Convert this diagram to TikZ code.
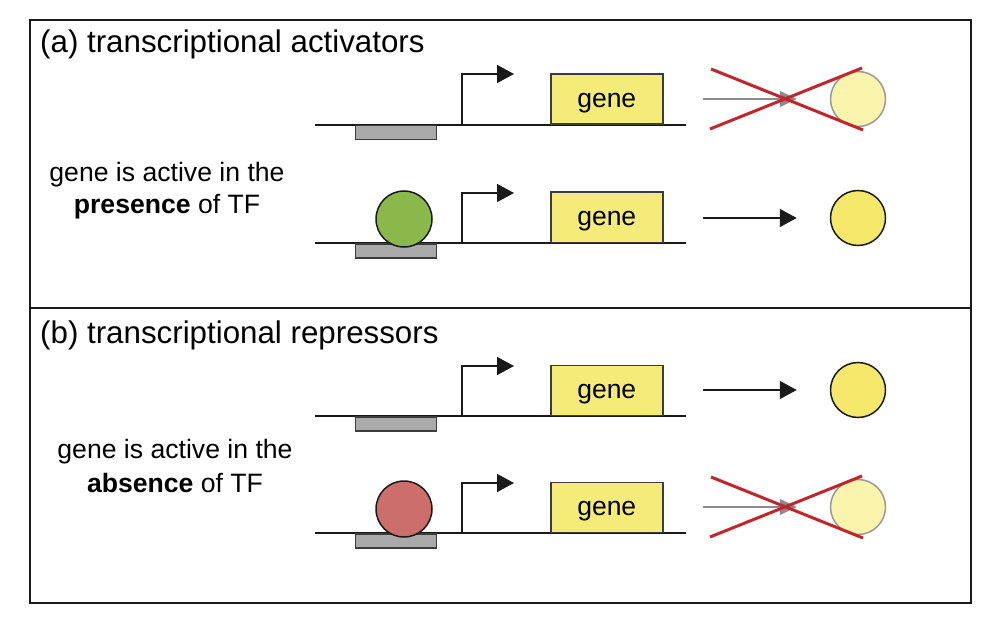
\documentclass[tikz,border=0pt]{standalone}
\usepackage{fontspec}
\setmainfont{Liberation Sans}
\usetikzlibrary{arrows.meta}
\definecolor{geneyellow}{HTML}{F4EB78}
\definecolor{prodyellow}{HTML}{F5E86A}
\definecolor{fadeyellow}{HTML}{FAF4AC}
\definecolor{tfgreen}{HTML}{8BB84A}
\definecolor{tfred}{HTML}{CC6E6C}
\definecolor{sitegray}{HTML}{AAAAAA}
\definecolor{crossred}{HTML}{C0272D}
\definecolor{linedark}{HTML}{1A1A1A}
\tikzset{
  frameline/.style={draw=linedark, line width=1.4pt},
  titletext/.style={inner sep=0pt, anchor=base west, font=\fontsize{31.3}{37}\selectfont},
  sidetext/.style={inner sep=0pt, anchor=base, font=\fontsize{26.6}{31}\selectfont},
  dna/.style={draw=linedark, line width=1.5pt},
  site/.style={draw=linedark!85, fill=sitegray, line width=1.5pt, minimum width=81pt, minimum height=14pt, inner sep=0pt, anchor=north},
  genebox/.style={draw=linedark!85, fill=geneyellow, line width=1.5pt, minimum width=112pt, minimum height=50pt, inner sep=0pt, text height=17pt, text depth=0pt, anchor=south west, font=\fontsize{26.5}{30}\selectfont},
  tf/.style={circle, draw=linedark, line width=1.5pt, minimum size=56pt, inner sep=0pt},
  prod/.style={circle, draw=linedark, fill=prodyellow, line width=1.5pt, minimum size=55pt, inner sep=0pt},
  fadeprod/.style={circle, draw=black!40, fill=fadeyellow, line width=1.5pt, minimum size=55pt, inner sep=0pt},
  prom/.style={draw=linedark, line width=1.5pt, -{Triangle[length=17pt,width=18pt]}},
  prodarrow/.style={draw=linedark, line width=1.5pt, shorten >=33pt, -{Triangle[length=17pt,width=18pt]}},
  fadearrow/.style={draw=black!45, fill=black!45, line width=1.5pt, shorten >=33pt, -{Triangle[length=17pt,width=16pt]}},
  redx/.style={draw=crossred, line width=3pt}
}
\begin{document}
\begin{tikzpicture}[x=1pt,y=-1pt]
\useasboundingbox (0,0) rectangle (1003,631);
% frame
\draw[frameline] (30,20) rectangle (971,603);
\draw[frameline] (30,308) -- (971,308);
% titles
\node[titletext] (ta) at (40,53) {(a) transcriptional activators};
\node[titletext] (tb) at (40,343) {(b) transcriptional repressors};
% side texts
\node[sidetext] (sa1) at (167,182) {gene is active in the};
\node[sidetext] (sa2) at (167,213) {\textbf{presence} of TF};
\node[sidetext] (sb1) at (175,458) {gene is active in the};
\node[sidetext] (sb2) at (175,492) {\textbf{absence} of TF};

% ---------- row a1 (no TF, no product) ----------
\coordinate (a1l) at (315,125); \coordinate (a1r) at (686,125);
\draw[dna] (a1l) -- (a1r);
\node[site] (a1s) at (396,125) {};
\coordinate (a1p) at (462,125); \coordinate (a1t) at (514,74);
\draw[prom] (a1p) |- (a1t);
\node[genebox] (a1g) at (550,125) {gene};
\node[fadeprod] (a1c) at (858,99) {};
\coordinate (a1a) at (703,99);
\draw[fadearrow] (a1a) -- (a1c.west);
\coordinate (a1x1) at (711,69); \coordinate (a1x2) at (863,130);
\coordinate (a1x3) at (710,129); \coordinate (a1x4) at (862,68);
\draw[redx] (a1x1) -- (a1x2);
\draw[redx] (a1x3) -- (a1x4);

% ---------- row a2 (activator bound, product) ----------
\coordinate (a2l) at (315,243); \coordinate (a2r) at (686,243);
\draw[dna] (a2l) -- (a2r);
\node[site] (a2s) at (396,243) {};
\node[tf, fill=tfgreen] (a2f) at (404,219) {};
\coordinate (a2p) at (462,243); \coordinate (a2t) at (514,193);
\draw[prom] (a2p) |- (a2t);
\node[genebox] (a2g) at (550,243) {gene};
\node[prod] (a2c) at (858,218) {};
\coordinate (a2a) at (703,218);
\draw[prodarrow] (a2a) -- (a2c.west);

% ---------- row b1 (no TF, product) ----------
\coordinate (b1l) at (315,416); \coordinate (b1r) at (686,416);
\draw[dna] (b1l) -- (b1r);
\node[site] (b1s) at (396,416) {};
\coordinate (b1p) at (462,416); \coordinate (b1t) at (514,366);
\draw[prom] (b1p) |- (b1t);
\node[genebox] (b1g) at (550,416) {gene};
\node[prod] (b1c) at (858,390) {};
\coordinate (b1a) at (703,390);
\draw[prodarrow] (b1a) -- (b1c.west);

% ---------- row b2 (repressor bound, no product) ----------
\coordinate (b2l) at (315,533); \coordinate (b2r) at (686,533);
\draw[dna] (b2l) -- (b2r);
\node[site] (b2s) at (396,533) {};
\node[tf, fill=tfred] (b2f) at (404,509) {};
\coordinate (b2p) at (462,533); \coordinate (b2t) at (514,483);
\draw[prom] (b2p) |- (b2t);
\node[genebox] (b2g) at (550,533) {gene};
\node[fadeprod] (b2c) at (858,507) {};
\coordinate (b2a) at (703,507);
\draw[fadearrow] (b2a) -- (b2c.west);
\coordinate (b2x1) at (711,477); \coordinate (b2x2) at (863,538);
\coordinate (b2x3) at (710,537); \coordinate (b2x4) at (862,476);
\draw[redx] (b2x1) -- (b2x2);
\draw[redx] (b2x3) -- (b2x4);
\end{tikzpicture}
\end{document}
